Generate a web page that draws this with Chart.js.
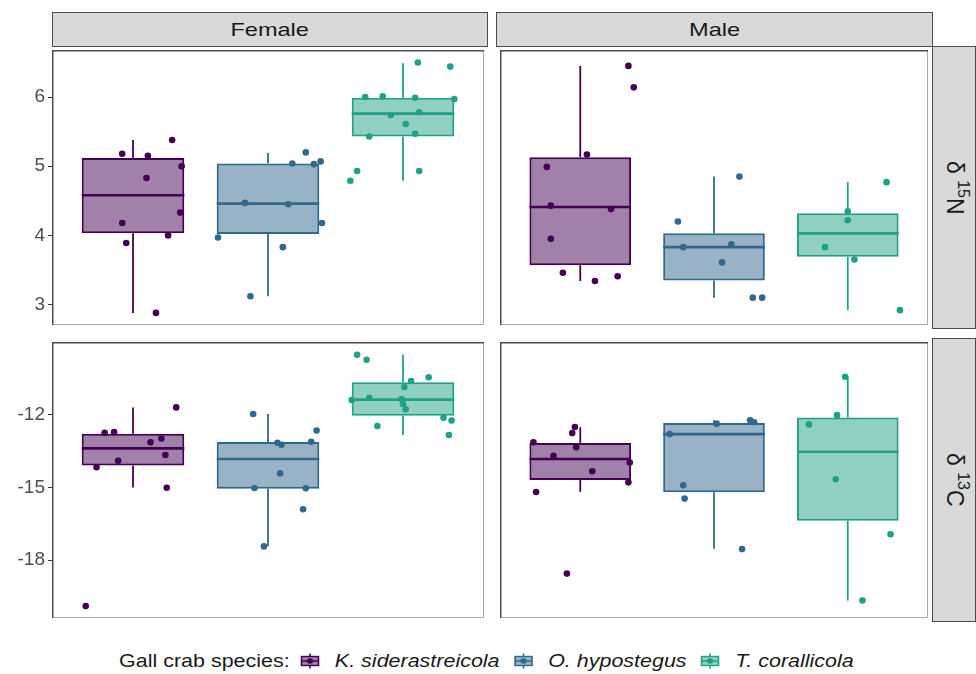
<!DOCTYPE html>
<html>
<head>
<meta charset="utf-8">
<script src="https://cdn.jsdelivr.net/npm/chart.js@4.4.1/dist/chart.umd.min.js"></script>
<style>
  html, body { margin: 0; padding: 0; background: #fff; }
  #wrap { position: relative; width: 976px; height: 674px; overflow: hidden; font-family: 'Liberation Sans', Arial, sans-serif; }
  canvas { position: absolute; }
  .strip { position: absolute; box-sizing: border-box; background: #D9D9D9; border: 1px solid #4D4D4D;
           display: flex; align-items: center; justify-content: center; color: #1A1A1A; font-size: 19px; }
  .strip span { display: inline-block; }
  .strip.top span { transform: scaleX(1.24); }
  .strip.side span { writing-mode: vertical-rl; font-size: 23px; }
  .strip sup { font-size: 16px; vertical-align: 8px; line-height: 0; }
  #legend { position: absolute; left: 0; top: 648px; width: 985px; height: 26px; display: flex; justify-content: center; align-items: center; }
  #legend .inner { display: flex; align-items: center; transform: scaleX(1.13); font-size: 19px; color: #1A1A1A; white-space: nowrap; }
  #legend .key { margin: 0 12px 0 0; }
  #legend .title { margin-right: 8px; }
  #legend .lab { font-style: italic; margin-right: 11px; }
</style>
</head>
<body>
<div id="wrap">
  <div class="strip top" style="left:52px;top:12px;width:436px;height:35px;"><span>Female</span></div>
  <div class="strip top" style="left:496px;top:12px;width:437px;height:35px;"><span>Male</span></div>
  <div class="strip side" style="left:932px;top:46px;width:44px;height:283px;"><span>δ <sup>15</sup>N</span></div>
  <div class="strip side" style="left:932px;top:338px;width:44px;height:284px;"><span>δ <sup>13</sup>C</span></div>

  <canvas id="nF" width="488" height="283" style="left:0px;top:46px;"></canvas>
  <canvas id="nM" width="436" height="283" style="left:496px;top:46px;"></canvas>
  <canvas id="cF" width="488" height="284" style="left:0px;top:338px;"></canvas>
  <canvas id="cM" width="436" height="284" style="left:496px;top:338px;"></canvas>

  <div id="legend"><div class="inner" id="legendInner"></div></div>
</div>
<script>
const species = ['K. siderastreicola', 'O. hypostegus', 'T. corallicola'];
const sexes = ['Female', 'Male'];
const legendTitle = 'Gall crab species:';

const ticksN = [3, 4, 5, 6];
const ticksC = [-18, -15, -12];

// box stats per species: [lower whisker, Q1, median, Q3, upper whisker]
const boxNFemale = [[2.88, 4.03, 4.58, 5.12, 5.38], [3.12, 4.02, 4.46, 5.04, 5.19], [4.79, 5.43, 5.76, 5.99, 6.49]];
const boxNMale   = [[3.34, 3.57, 4.41, 5.13, 6.45], [3.10, 3.35, 3.83, 4.03, 4.85], [2.92, 3.69, 4.03, 4.32, 4.77]];
const boxCFemale = [[-15.00, -14.09, -13.39, -12.79, -11.70], [-17.42, -15.05, -13.83, -13.13, -11.97], [-12.84, -12.04, -11.38, -10.66, -9.53]];
const boxCMale   = [[-15.18, -14.69, -13.83, -13.17, -12.52], [-17.53, -15.20, -12.80, -12.34, -12.23], [-19.66, -16.37, -13.53, -12.12, -10.44]];

// jittered points: [x (category position), value]
const nFemaleK = [[0.92,5.18],[1.11,5.15],[1.29,5.38],[1.36,5.00],[1.10,4.83],[1.35,4.33],[0.92,4.18],[1.26,4.00],[0.95,3.89],[1.17,2.88]];
const nFemaleO = [[2.28,5.20],[2.18,5.04],[2.34,5.03],[2.39,5.07],[1.83,4.47],[2.15,4.45],[2.40,4.18],[1.63,3.97],[2.11,3.83],[1.87,3.12]];
const nFemaleT = [[3.11,6.50],[3.35,6.44],[2.72,6.00],[2.85,6.01],[3.09,5.99],[3.38,5.97],[3.12,5.78],[2.91,5.74],[3.02,5.61],[3.09,5.47],[2.75,5.43],[2.66,4.93],[3.12,4.93],[2.61,4.79]];
const nMaleK = [[1.36,6.45],[1.40,6.14],[1.05,5.17],[0.75,4.99],[0.78,4.43],[1.23,4.38],[0.78,3.95],[0.87,3.46],[1.28,3.41],[1.11,3.34]];
const nMaleO = [[2.19,4.85],[1.73,4.20],[1.77,3.83],[2.13,3.87],[2.06,3.61],[2.29,3.10],[2.36,3.10]];
const nMaleT = [[3.29,4.77],[3.00,4.35],[3.00,4.22],[2.83,3.83],[3.05,3.65],[3.39,2.92]];
const cFemaleK = [[1.32,-11.70],[0.79,-12.75],[0.86,-12.72],[1.13,-13.14],[1.21,-12.98],[1.24,-13.66],[0.89,-13.90],[0.73,-14.17],[1.25,-15.01],[0.65,-19.89]];
const cFemaleO = [[1.89,-11.97],[2.36,-12.65],[2.32,-13.12],[2.07,-13.16],[2.10,-13.24],[2.09,-14.42],[1.90,-15.02],[2.28,-15.03],[2.26,-15.90],[1.97,-17.43]];
const cFemaleT = [[2.66,-9.53],[2.73,-9.74],[3.19,-10.46],[3.06,-10.61],[3.01,-10.86],[2.62,-11.40],[2.75,-11.30],[2.99,-11.36],[3.00,-11.56],[3.02,-11.78],[3.30,-12.13],[3.36,-12.24],[2.81,-12.47],[3.34,-12.84]];
const cMaleK = [[0.96,-12.51],[0.94,-12.76],[0.65,-13.14],[0.97,-13.34],[0.80,-13.69],[1.37,-13.97],[1.09,-14.33],[1.36,-14.79],[0.67,-15.19],[0.90,-18.55]];
const cMaleO = [[2.27,-12.23],[2.30,-12.31],[2.02,-12.37],[1.67,-12.80],[1.77,-14.91],[1.78,-15.46],[2.21,-17.54]];
const cMaleT = [[2.98,-10.44],[2.92,-12.02],[2.71,-12.40],[2.91,-14.66],[3.32,-16.93],[3.11,-19.66]];

const colors = ['#440154', '#31688E', '#1FA187'];
const fills = ['rgba(68,1,84,0.5)', 'rgba(49,104,142,0.5)', 'rgba(31,161,135,0.5)'];
const BOX_W = 0.76;
const FONT = "'Liberation Sans', Arial, sans-serif";

Chart.defaults.font.family = FONT;

// panel frame like ggplot's panel.border
const panelBorder = {
  id: 'panelBorder',
  afterDraw(chart) {
    const { ctx, chartArea: a } = chart;
    ctx.save();
    ctx.strokeStyle = '#A8A8A8';
    ctx.lineWidth = 1;
    ctx.beginPath();
    ctx.moveTo(a.right - 0.5, a.top);
    ctx.lineTo(a.right - 0.5, a.bottom - 0.5);
    ctx.lineTo(a.left, a.bottom - 0.5);
    ctx.stroke();
    ctx.strokeStyle = '#4D4D4D';
    ctx.lineWidth = 1.5;
    ctx.beginPath();
    ctx.moveTo(a.left + 0.75, a.bottom);
    ctx.lineTo(a.left + 0.75, a.top + 0.75);
    ctx.lineTo(a.right, a.top + 0.75);
    ctx.stroke();
    ctx.restore();
  }
};

function makePanel(id, box, pts, yMin, yMax, yTicks, showAxis) {
  const cats = species.map((s, i) => i + 1);
  const datasets = [];

  pts.forEach((p, i) => datasets.push({
    type: 'scatter', order: 0,
    data: p.map(d => ({ x: d[0], y: d[1] })),
    pointRadius: 3.3, pointBackgroundColor: colors[i], pointBorderWidth: 0, showLine: false
  }));

  box.forEach((b, i) => datasets.push({
    type: 'line', order: 1,
    data: [{ x: cats[i] - BOX_W / 2, y: b[2] }, { x: cats[i] + BOX_W / 2, y: b[2] }],
    borderColor: colors[i], borderWidth: 2.6, pointRadius: 0, fill: false, borderCapStyle: 'butt'
  }));

  datasets.push({
    type: 'bar', order: 2, grouped: false,
    data: box.map((b, i) => ({ x: cats[i], y: [b[1], b[3]] })),
    backgroundColor: fills, borderColor: colors, borderWidth: 2, borderSkipped: false,
    barPercentage: BOX_W, categoryPercentage: 1, inflateAmount: 0
  });

  datasets.push({
    type: 'bar', order: 3, grouped: false,
    data: box.map((b, i) => ({ x: cats[i], y: [b[0], b[1]] })),
    backgroundColor: colors, borderWidth: 0, barThickness: 1.8, inflateAmount: 0
  });
  datasets.push({
    type: 'bar', order: 3, grouped: false,
    data: box.map((b, i) => ({ x: cats[i], y: [b[3], b[4]] })),
    backgroundColor: colors, borderWidth: 0, barThickness: 1.8, inflateAmount: 0
  });

  new Chart(document.getElementById(id), {
    type: 'bar',
    data: { datasets: datasets },
    options: {
      responsive: false,
      animation: false,
      events: [],
      layout: { padding: 0 },
      plugins: { legend: { display: false }, tooltip: { enabled: false } },
      scales: {
        x: {
          type: 'linear', min: 0.4, max: 3.6, offset: false, display: false,
          afterBuildTicks: s => { s.ticks = cats.map(v => ({ value: v })); }
        },
        y: {
          type: 'linear', min: yMin, max: yMax, display: showAxis,
          afterBuildTicks: s => { s.ticks = yTicks.map(v => ({ value: v })); },
          afterFit: s => {
            s.width = showAxis ? 52 : 0;
            s.paddingTop = 0; s.paddingBottom = 0;
          },
          grid: { drawOnChartArea: false, drawTicks: true, tickLength: 4, tickColor: '#333333', tickWidth: 1 },
          border: { display: false },
          ticks: { color: '#4D4D4D', font: { size: 19 }, padding: 3 }
        }
      }
    },
    plugins: [panelBorder]
  });
}

makePanel('nF', boxNFemale, [nFemaleK, nFemaleO, nFemaleT], 2.705, 6.68, ticksN, true);
makePanel('nM', boxNMale, [nMaleK, nMaleO, nMaleT], 2.705, 6.68, ticksN, false);
makePanel('cF', boxCFemale, [cFemaleK, cFemaleO, cFemaleT], -20.38, -9.005, ticksC, true);
makePanel('cM', boxCMale, [cMaleK, cMaleO, cMaleT], -20.38, -9.005, ticksC, false);

// legend with boxplot key glyphs
const inner = document.getElementById('legendInner');
let html = '<span class="title">' + legendTitle + '</span>';
species.forEach((s, i) => {
  html += '<svg class="key" width="20" height="18" viewBox="0 0 20 18">' +
    '<line x1="10" y1="1.6" x2="10" y2="4.5" stroke="' + colors[i] + '" stroke-width="1.4"/>' +
    '<line x1="10" y1="13.5" x2="10" y2="16.4" stroke="' + colors[i] + '" stroke-width="1.4"/>' +
    '<rect x="2.5" y="4.5" width="15" height="9" fill="' + fills[i] + '" stroke="' + colors[i] + '" stroke-width="1.4"/>' +
    '<line x1="2.5" y1="9" x2="17.5" y2="9" stroke="' + colors[i] + '" stroke-width="1.4"/>' +
    '<circle cx="10" cy="9" r="2.8" fill="' + colors[i] + '"/>' +
    '</svg><span class="lab">' + s + '</span>';
});
inner.innerHTML = html;
</script>
</body>
</html>
